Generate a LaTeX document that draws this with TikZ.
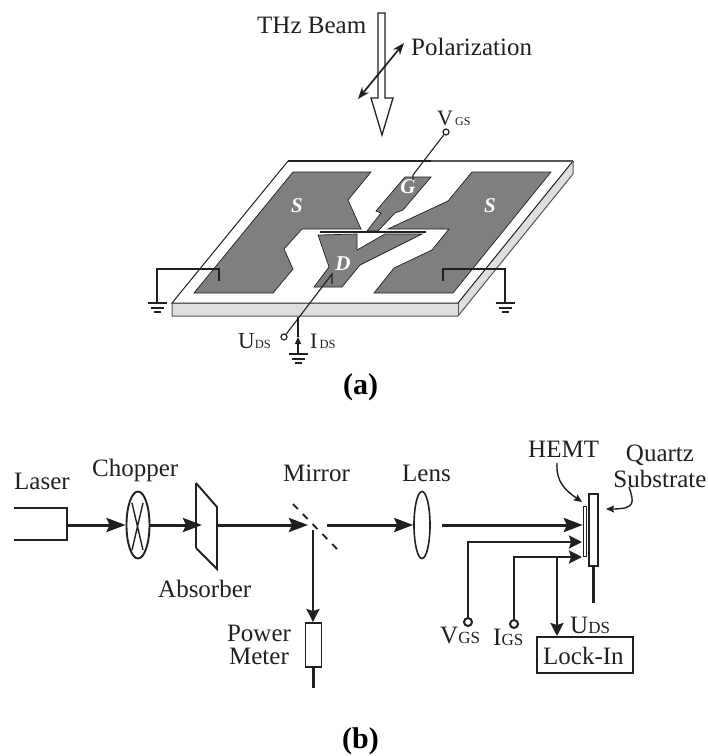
\documentclass[tikz,border=0pt]{standalone}
\usepackage{xcolor}
\usepackage{fontspec}
\setmainfont{Liberation Serif}
\usepackage{tikz}
\usetikzlibrary{shapes.geometric, arrows.meta, positioning, calc}

\definecolor{inkblack}{HTML}{231F20}
\definecolor{padgray}{HTML}{7F7F7F}
\definecolor{sidegray}{HTML}{DEDEDE}
\definecolor{edgegray}{HTML}{5A5552}

\newcommand{\subtxt}[2]{{\fontsize{#1}{#1}\selectfont #2}}

\begin{document}
\begin{tikzpicture}[
        x=1pt, y=-1pt,
        inner sep=0pt,
        txt/.style={
            anchor=base west,
            text=inkblack,
            font=\fontsize{25}{26}\selectfont
        },
        smalltxt/.style={
            txt,
            font=\fontsize{22}{24}\selectfont
        },
        padtxt/.style={
            text=white,
            font=\fontsize{21}{22}\selectfont\bfseries\itshape
        },
        captxt/.style={
            anchor=base west,
            text=black,
            font=\fontsize{30}{32}\selectfont\bfseries
        },
        pad/.style={
            draw=inkblack,
            line width=0.7pt,
            fill=padgray
        },
        wire/.style={
            draw=inkblack,
            line width=1.1pt
        },
        beam/.style={
            draw=inkblack,
            line width=3pt,
            -{Stealth[length=19pt,width=14pt,inset=3pt]}
        },
        sig/.style={
            draw=inkblack,
            line width=2.4pt,
            -{Stealth[length=13pt,width=13pt,inset=2pt]}
        },
        callout/.style={
            draw=inkblack,
            line width=1.4pt,
            -{Stealth[length=8pt,width=7pt,inset=1pt]}
        },
        terminal/.style={
            circle,
            draw=inkblack,
            line width=1.2pt,
            fill=white,
            minimum size=6pt
        },
        bigterminal/.style={
            terminal,
            line width=2pt,
            minimum size=8pt
        },
        optic/.style={
            draw=inkblack,
            line width=1.9pt,
            fill=white
        }
    ]
    \useasboundingbox (0,0) rectangle (708,756);

    % Beam and polarization
    \draw [draw=inkblack, line width=1.3pt, fill=white]
        (378,13) -- (385,13) -- (385,98) -- (393,98) -- (382,135) -- (371,98) -- (378,98) -- cycle;
    \coordinate (polA) at (358,99);
    \coordinate (polB) at (404,43);
    \draw [draw=inkblack, line width=1.7pt, {Stealth[length=12pt,width=9pt]}-{Stealth[length=12pt,width=9pt]}] (polA) -- (polB);
    \node (beamlbl) [txt] at (257,33) {THz Beam};
    \node (pollbl) [txt] at (411,55) {Polarization};

    % Substrate plate
    \fill [sidegray] (172,303) -- (458,303) -- (573,161) -- (573,174) -- (458,316) -- (172,316) -- cycle;
    \draw [edgegray, line width=1pt] (172,303) -- (172,316) -- (458,316) -- (573,174) -- (573,161);
    \draw [edgegray, line width=1pt] (458,303) -- (458,316);
    \draw [inkblack, line width=1pt] (458,303) -- (573,161);
    \draw [inkblack, line width=1pt] (288,161) -- (172,303) -- (458,303);
    \draw [inkblack, line width=1.5pt] (288,161) -- (431,161);
    \draw [edgegray, line width=1.5pt] (431,161) -- (573,161);

    % Contact pads
    \draw [pad] (293,172) -- (371,172) -- (348,200) -- (361,229) -- (302,229) -- (284,249) -- (293,269) -- (273,293) -- (194,293) -- cycle;
    \draw [pad] (472,172) -- (551,172) -- (453,293) -- (374,293) -- (394,268) -- (432,250) -- (449,229) -- (388,229) -- (448,201) -- cycle;
    \draw [pad] (405,177) -- (431,177) -- (403,210) -- (395,213) -- (378,231) -- (367,231) -- (381,213) -- (376,211) -- cycle;
    \draw [pad] (318,235) -- (357,234) -- (357,250) -- (385,234) -- (422,234) -- (360,265) -- (342,287) -- (314,287) -- (329,267) -- cycle;
    \draw [inkblack, line width=2pt] (320,232) -- (426,232);
    \node (padS1) [padtxt] at (297,206) {S};
    \node (padS2) [padtxt] at (490,206) {S};
    \node (padG) [padtxt] at (408,187) {G};
    \node (padD) [padtxt] at (343,264) {D};

    % Wiring of the device
    \coordinate (gndL) at (157,303);
    \coordinate (gndR) at (505,303);
    \coordinate (gndC) at (298,354);
    \coordinate (tapL) at (219,281);
    \coordinate (tapR) at (443,281);
    \coordinate (tapG) at (413,180);
    \coordinate (tapD) at (332,284);
    \coordinate (idsTop) at (298,317);
    \coordinate (idsTip) at (298,337);
    \node (vgsPin) [terminal] at (446,132) {};
    \node (udsPin) [terminal] at (284,337) {};
    \draw [wire] (tapL) -- ++(0,-12) -| (gndL);
    \draw [wire] (tapR) -- ++(0,-12) -| (gndR);
    \draw [wire] (tapG) -- ++(0,-5) -- (vgsPin);
    \draw [wire] (tapD) -- ++(0,-10) -- (udsPin);
    \draw [wire] (idsTop) -- (idsTip);
    \draw [wire, -{Stealth[length=7pt,width=6pt,inset=0pt]}] (gndC) -- (idsTip);
    \foreach \g in {gndL, gndR, gndC} {
        \draw [wire, line width=1.2pt] ([xshift=-9.5pt]\g) -- ([xshift=9.5pt]\g);
        \draw [wire, line width=1.2pt] ([xshift=-6.5pt, yshift=-5pt]\g) -- ([xshift=6.5pt, yshift=-5pt]\g);
        \draw [wire, line width=1.2pt] ([xshift=-3.5pt, yshift=-9pt]\g) -- ([xshift=3.5pt, yshift=-9pt]\g);
    }
    \node (vgsTop) [smalltxt] at (437,125) {V\subtxt{12}{\,GS}};
    \node (udsTop) [txt, font=\fontsize{23}{24}\selectfont] at (238,348) {U\subtxt{12.5}{DS}};
    \node (idsLbl) [smalltxt] at (310,348) {I\subtxt{12.5}{\,DS}};
    \node (capA) [captxt] at (343,394) {(a)};

    % Optical bench
    \node (laser) [minimum width=53pt, minimum height=32pt] at (40.5,524) {};
    \draw [draw=inkblack, line width=2.2pt] (laser.north west) -- (laser.north east) -- (laser.south east) -- (laser.south west);
    \node (chopper) [ellipse, optic, minimum width=23pt, minimum height=67pt] at (138,525) {};
    \draw [draw=inkblack, line width=1.4pt] (132,503) -- (143,550) (143,503) -- (132,550);
    \draw [optic] (196,483) -- (217,507) -- (217,569) -- (196,548);
    \draw [draw=inkblack, line width=2.6pt] (196,483) -- (196,548);
    \coordinate (absIn) at (202,525);
    \coordinate (absOut) at (217,525);
    \coordinate (mirrorIn) at (308,525);
    \coordinate (mirrorOut) at (327,525);
    \coordinate (mirrorDown) at (313,530);
    \coordinate (mirrorA) at (293,504);
    \coordinate (mirrorB) at (337,549);
    \draw [draw=inkblack, line width=1.8pt, dash pattern=on 7pt off 7pt] (mirrorA) -- (mirrorB);
    \node (lens) [ellipse, optic, line width=1.6pt, minimum width=16pt, minimum height=67pt] at (422,525) {};
    \node (quartz) [optic, line width=2.2pt, minimum width=9pt, minimum height=72pt] at (593.5,530) {};
    \node (hemt) [optic, line width=1.4pt, minimum width=3pt, minimum height=50pt] at (585,531.5) {};
    \node (meter) [optic, minimum width=16pt, minimum height=44pt] at (313.5,645) {};
    \node (lockin) [draw=inkblack, line width=2pt, minimum width=96pt, minimum height=36pt] at (585,655) {};
    \node (lockinTxt) [txt] at (543,664) {Lock-In};

    \draw [beam] (laser.east |- chopper.west) -- (chopper.west);
    \draw [beam] (chopper.east) -- (absIn);
    \draw [beam] (absOut) -- (mirrorIn);
    \draw [beam] (mirrorOut) -- (lens.west);
    \draw [beam] ([xshift=11pt]lens.east) -- (hemt.west |- lens.east);
    \draw [sig] (mirrorDown) -- (mirrorDown |- meter.north);
    \draw [draw=inkblack, line width=2.4pt] (meter.south) -- ++(0,20);
    \draw [draw=inkblack, line width=2.4pt] (quartz.south) -- ++(0,36);

    % Bias lines
    \node (vgsBot) [bigterminal] at (468,622) {};
    \node (igsBot) [bigterminal] at (514,624) {};
    \coordinate (vgsIn) at (582,542);
    \coordinate (igsIn) at (582,557);
    \coordinate (igsTap) at (557,557);
    \draw [sig] (vgsBot) |- (vgsIn);
    \draw [sig] (igsBot) |- (igsIn);
    \draw [sig] (igsTap) -- (igsTap |- lockin.north);

    % Callouts
    \coordinate (hemtFrom) at (557,463);
    \coordinate (hemtTo) at (582,502);
    \coordinate (quartzFrom) at (629,487);
    \coordinate (quartzTo) at (606,509);
    \draw [callout] (hemtFrom) .. controls (556,482) and (565,490) .. (hemtTo);
    \draw [callout] (quartzFrom) .. controls (634,502) and (636,509) .. (quartzTo);

    % Labels
    \node (laserLbl) [txt] at (14,489) {Laser};
    \node (chopperLbl) [txt] at (92,476) {Chopper};
    \node (absorberLbl) [txt] at (158,597) {Absorber};
    \node (mirrorLbl) [txt] at (283,481) {Mirror};
    \node (lensLbl) [txt] at (402,481) {Lens};
    \node (meterLbl) [txt, anchor=center, align=center, font=\fontsize{25}{23}\selectfont] at (259,645) {Power\\Meter};
    \node (hemtLbl) [txt] at (528,457) {HEMT};
    \node (quartzLbl) [txt, anchor=center, align=center, font=\fontsize{25}{26}\selectfont] at (660,466) {Quartz\\Substrate};
    \node (vgsLbl) [txt] at (440,643) {V\subtxt{17}{GS}};
    \node (igsLbl) [txt] at (493,645) {I\subtxt{17}{GS}};
    \node (udsLbl) [txt] at (570,633) {U\subtxt{17}{DS}};
    \node (capB) [captxt] at (342,748) {(b)};

\end{tikzpicture}
\end{document}
